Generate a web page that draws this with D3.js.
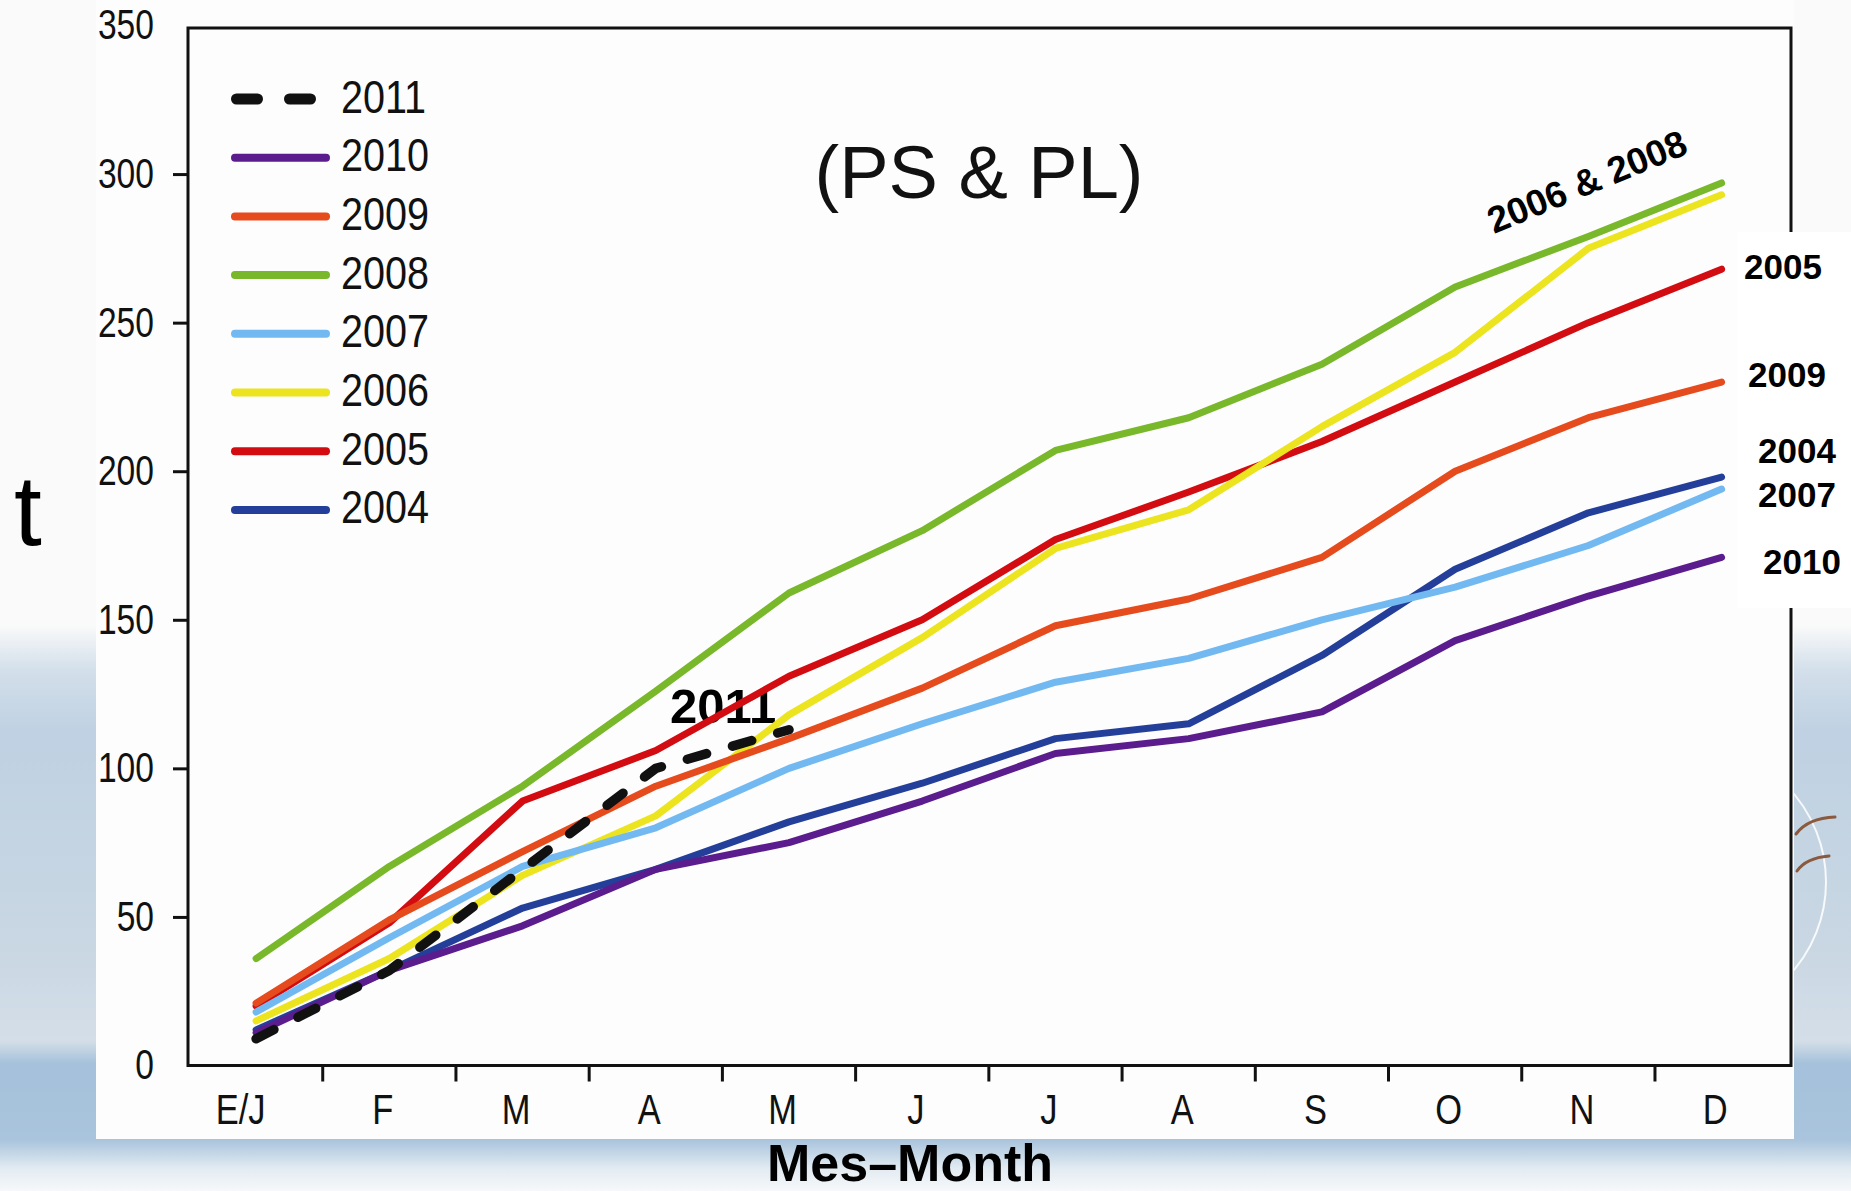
<!DOCTYPE html>
<html>
<head>
<meta charset="utf-8">
<script src="https://cdn.jsdelivr.net/npm/d3@7"></script>
<style>
  html, body { margin: 0; padding: 0; background: #fafafa; }
  svg { display: block; }
</style>
</head>
<body>
<svg id="chart"></svg>
<script>
// months (E/J = Enero / January)
const months = ["E/J", "F", "M", "A", "M", "J", "J", "A", "S", "O", "N", "D"];
const years = ["2004", "2005", "2006", "2007", "2008", "2009", "2010", "2011"];

// cumulative t per month
const s2004 = [12, 32, 53, 66, 82, 95, 110, 115, 138, 167, 186, 198];
const s2005 = [20, 48, 89, 106, 131, 150, 177, 193, 210, 230, 250, 268];
const s2006 = [15, 36, 64, 84, 118, 144, 174, 187, 215, 240, 275, 293];
const s2007 = [18, 43, 67, 80, 100, 115, 129, 137, 150, 161, 175, 194];
const s2008 = [36, 67, 94, 126, 159, 180, 207, 218, 236, 262, 279, 297];
const s2009 = [21, 49, 72, 94, 110, 127, 148, 157, 171, 200, 218, 230];
const s2010 = [11, 32, 47, 66, 75, 89, 105, 110, 119, 143, 158, 171];
const s2011 = [9, 32, 66, 100, 113];

const yTicks = [0, 50, 100, 150, 200, 250, 300, 350];
const legendYears = ["2011", "2010", "2009", "2008", "2007", "2006", "2005", "2004"];

const series = {
    "2004": s2004, "2005": s2005, "2006": s2006, "2007": s2007,
    "2008": s2008, "2009": s2009, "2010": s2010, "2011": s2011
};

const color = d3.scaleOrdinal()
    .domain(years)
    .range(["#243f9a", "#d20c10", "#ebe41f", "#72b9f2", "#78b82a", "#e54b1c", "#5b1c8e", "#111111"]);

const width = 1851, height = 1191;
const sans = "'Liberation Sans', Arial, Helvetica, sans-serif";

// the original uses a narrow Helvetica; squeeze the regular face instead
function condense(sel, k) {
    sel.each(function () {
        const w = this.getComputedTextLength();
        d3.select(this)
            .attr("textLength", w * k)
            .attr("lengthAdjust", "spacingAndGlyphs");
    });
}

const svg = d3.select("#chart")
    .attr("width", width)
    .attr("height", height);

// ---- background (slide template) ----
const defs = svg.append("defs");
const grad = defs.append("linearGradient")
    .attr("id", "band")
    .attr("x1", 0).attr("y1", 0).attr("x2", 0).attr("y2", 1);
[[0, "#fafafa"], [0.08, "#d3dfea"], [0.19, "#bfd1e2"], [0.57, "#c9d7e3"], [0.735, "#d4dee8"],
 [0.775, "#a5c1db"], [0.91, "#a9c4dc"], [0.96, "#e2ebf2"], [1, "#f6f8fa"]]
    .forEach(([o, c]) => grad.append("stop").attr("offset", o).attr("stop-color", c));

svg.append("rect").attr("width", width).attr("height", height).attr("fill", "#fafafa");
svg.append("rect")
    .attr("x", 0).attr("y", 625).attr("width", width).attr("height", height - 625)
    .attr("fill", "url(#band)");

// faint globe on the right
svg.append("circle")
    .attr("cx", 1689).attr("cy", 882).attr("r", 137)
    .attr("fill", "none").attr("stroke", "#ffffff").attr("stroke-width", 2).attr("opacity", 0.85);
svg.append("path")
    .attr("d", "M1796,834 Q1808,818 1835,817")
    .attr("fill", "none").attr("stroke", "#8a5a3e").attr("stroke-width", 3).attr("stroke-linecap", "round");
svg.append("path")
    .attr("d", "M1797,871 Q1806,858 1829,856")
    .attr("fill", "none").attr("stroke", "#8a5a3e").attr("stroke-width", 3).attr("stroke-linecap", "round");

// white chart card
svg.append("rect")
    .attr("x", 96).attr("y", 0).attr("width", 1698).attr("height", 1139)
    .attr("fill", "#fdfdfd");

// ---- scales ----
const x = d3.scalePoint().domain(d3.range(12)).range([189.5, 1788.2]).padding(0.5);
const xBand = d3.scaleBand().domain(d3.range(12)).range([189.5, 1788.2]);
const y = d3.scaleLinear().domain([0, 350]).range([1065.5, 25.5]);

const frameLeft = 188, frameRight = 1791, frameTop = 28, frameBottom = y(0);

// ---- lines ----
const line = d3.line()
    .x((d, i) => x(i))
    .y(d => y(d));

const plot = svg.append("g");

plot.selectAll(".series")
    .data(years)
    .enter().append("path")
    .attr("class", "series")
    .attr("d", yr => line(series[yr]))
    .attr("fill", "none")
    .attr("stroke", yr => color(yr))
    .attr("stroke-width", yr => yr === "2011" ? 9.5 : 7)
    .attr("stroke-linecap", "round")
    .attr("stroke-linejoin", "round")
    .attr("stroke-dasharray", yr => yr === "2011" ? "20,27" : null);

// ---- frame + axes ----
svg.append("rect")
    .attr("x", frameLeft).attr("y", frameTop)
    .attr("width", frameRight - frameLeft).attr("height", frameBottom - frameTop)
    .attr("fill", "none").attr("stroke", "#111").attr("stroke-width", 3);

const yAxis = d3.axisLeft(y).tickValues(yTicks).tickSize(15).tickPadding(19);
svg.append("g")
    .attr("transform", `translate(${frameLeft},0)`)
    .call(yAxis)
    .attr("font-family", sans)
    .attr("font-size", 42)
    .call(g => g.select(".domain").remove())
    .call(g => g.selectAll(".tick").filter(d => d === 0 || d === 350).select("line").remove())
    .call(g => g.selectAll(".tick line").attr("stroke", "#111").attr("stroke-width", 3))
    .call(g => g.selectAll(".tick text").attr("fill", "#111").call(condense, 0.8));

const xAxis = d3.axisBottom(x).tickSize(0).tickPadding(29).tickFormat(i => months[i]);
svg.append("g")
    .attr("transform", `translate(-7,${frameBottom})`)
    .call(xAxis)
    .attr("font-family", sans)
    .attr("font-size", 42)
    .call(g => g.select(".domain").remove())
    .call(g => g.selectAll(".tick text")
        .attr("fill", "#111")
        .attr("dx", i => i === 0 ? -9 : 0)
        .call(condense, 0.82));

// tick marks sit between the months
svg.append("g")
    .selectAll("line")
    .data(d3.range(1, 12))
    .enter().append("line")
    .attr("x1", i => xBand(i)).attr("x2", i => xBand(i))
    .attr("y1", frameBottom).attr("y2", frameBottom + 16)
    .attr("stroke", "#111").attr("stroke-width", 3);

// ---- legend ----
const legend = svg.append("g").attr("transform", "translate(0,96)");
const row = legend.selectAll(".row")
    .data(legendYears)
    .enter().append("g")
    .attr("class", "row")
    .attr("transform", (d, i) => `translate(0,${i * 58.7})`);

row.append("line")
    .attr("x1", d => d === "2011" ? 236.5 : 235)
    .attr("x2", d => d === "2011" ? 312.5 : 326)
    .attr("y1", 3).attr("y2", 3)
    .attr("stroke", d => color(d))
    .attr("stroke-width", d => d === "2011" ? 11 : 8)
    .attr("stroke-linecap", "round")
    .attr("stroke-dasharray", d => d === "2011" ? "21,32" : null);

row.append("text")
    .attr("x", 341)
    .attr("dy", "0.36em")
    .attr("font-family", sans)
    .attr("font-size", 46)
    .attr("fill", "#111")
    .text(d => d)
    .call(condense, 0.86);

// ---- annotations ----
svg.append("text")
    .attr("x", 979).attr("y", 198)
    .attr("text-anchor", "middle")
    .attr("font-family", sans)
    .attr("font-size", 74)
    .attr("fill", "#111")
    .text("(PS & PL)");

svg.append("text")
    .attr("x", 14).attr("y", 545)
    .attr("font-family", sans)
    .attr("font-size", 100)
    .attr("fill", "#000")
    .text("t");

svg.append("text")
    .attr("x", 910).attr("y", 1181)
    .attr("text-anchor", "middle")
    .attr("font-family", sans)
    .attr("font-weight", "bold")
    .attr("font-size", 52)
    .attr("fill", "#000")
    .text("Mes\u2013Month");

svg.append("text")
    .attr("x", 670).attr("y", 723)
    .attr("font-family", sans)
    .attr("font-weight", "bold")
    .attr("font-size", 49)
    .attr("fill", "#000")
    .text("2011");

// white patch behind the right-hand labels (covers the frame there)
svg.append("rect")
    .attr("x", 1738).attr("y", 232).attr("width", width - 1738).attr("height", 376)
    .attr("fill", "#ffffff");

// keep the line ends above the patch
plot.raise();

const endLabels = [
    { yr: "2005", dx: 1744, dy: 10 },
    { yr: "2009", dx: 1748, dy: 5 },
    { yr: "2004", dx: 1758, dy: -14 },
    { yr: "2007", dx: 1758, dy: 18 },
    { yr: "2010", dx: 1763, dy: 17 }
];
svg.selectAll(".endlabel")
    .data(endLabels)
    .enter().append("text")
    .attr("class", "endlabel")
    .attr("x", d => d.dx)
    .attr("y", d => y(series[d.yr][11]) + d.dy)
    .attr("font-family", sans)
    .attr("font-weight", "bold")
    .attr("font-size", 35)
    .attr("fill", "#000")
    .text(d => d.yr);

svg.append("text")
    .attr("transform", "translate(1494,234) rotate(-22.5)")
    .attr("font-family", sans)
    .attr("font-weight", "bold")
    .attr("font-size", 37)
    .attr("fill", "#000")
    .text("2006 & 2008");
</script>
</body>
</html>
